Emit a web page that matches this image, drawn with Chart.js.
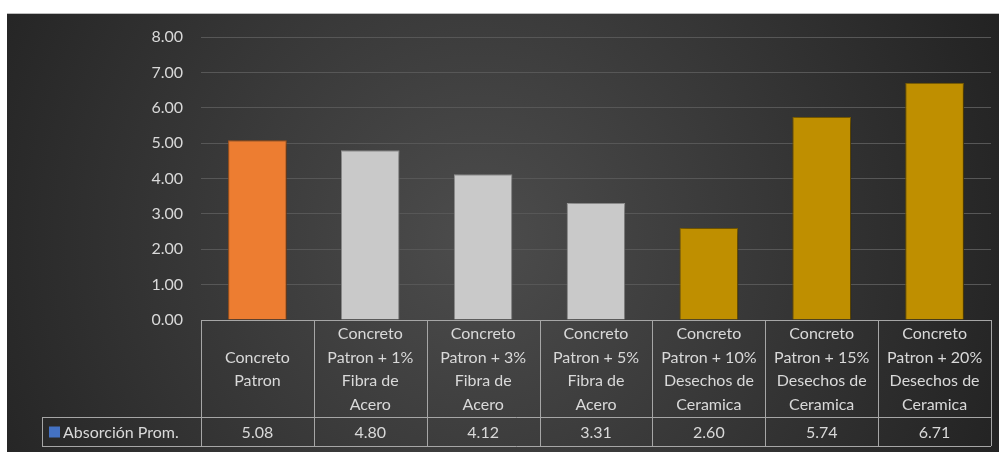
<!DOCTYPE html>
<html>
<head>
<meta charset="utf-8">
<script src="https://cdn.jsdelivr.net/npm/chart.js@4/dist/chart.umd.min.js"></script>
<style>
  html, body { margin: 0; padding: 0; background: #fff; }
  #wrap { width: 999px; height: 452px; }
</style>
</head>
<body>
<div id="wrap"><canvas id="barChart" width="999" height="452"></canvas></div>
<script>
// chart data
const categories = [
  ['Concreto', 'Patron'],
  ['Concreto', 'Patron + 1%', 'Fibra de', 'Acero'],
  ['Concreto', 'Patron + 3%', 'Fibra de', 'Acero'],
  ['Concreto', 'Patron + 5%', 'Fibra de', 'Acero'],
  ['Concreto', 'Patron + 10%', 'Desechos de', 'Ceramica'],
  ['Concreto', 'Patron + 15%', 'Desechos de', 'Ceramica'],
  ['Concreto', 'Patron + 20%', 'Desechos de', 'Ceramica']
];
const seriesName = 'Absorción Prom.';
const absorcion = [5.08, 4.80, 4.12, 3.31, 2.60, 5.74, 6.71];
const yTicks = [0, 1, 2, 3, 4, 5, 6, 7, 8];

const barColors = ['#ED7D31', '#C9C9C9', '#C9C9C9', '#C9C9C9', '#BF8F00', '#BF8F00', '#BF8F00'];
const barBorders = ['#B85F1F', '#9A9A9A', '#9A9A9A', '#9A9A9A', '#7F6000', '#7F6000', '#7F6000'];

const textColor = '#D9D9D9';
const fontFamily = 'Lato, "Open Sans", sans-serif';
const fontSize = 16;

// dark gradient background (Excel style)
const bgPlugin = {
  id: 'bgPlugin',
  beforeDraw(chart) {
    const ctx = chart.ctx;
    ctx.save();
    const x0 = 7, y0 = 13, w = chart.width - x0, h = chart.height - y0;
    const g = ctx.createRadialGradient(480, 240, 20, 480, 240, 560);
    g.addColorStop(0, '#4b4b4b');
    g.addColorStop(1, '#232323');
    ctx.fillStyle = g;
    ctx.fillRect(x0, y0, w, h);
    ctx.strokeStyle = '#bdbdbd';
    ctx.lineWidth = 1;
    ctx.beginPath();
    ctx.moveTo(x0, y0 + 0.5);
    ctx.lineTo(chart.width, y0 + 0.5);
    ctx.stroke();
    ctx.restore();
  }
};

// bar shadow
const shadowPlugin = {
  id: 'shadowPlugin',
  beforeDatasetsDraw(chart) {
    const ctx = chart.ctx;
    ctx.save();
    ctx.shadowColor = 'rgba(0,0,0,0.55)';
    ctx.shadowBlur = 7;
    ctx.shadowOffsetX = 2;
    ctx.shadowOffsetY = 2;
  },
  afterDatasetsDraw(chart) {
    chart.ctx.restore();
  }
};

// data table under the plot
const tablePlugin = {
  id: 'tablePlugin',
  afterDraw(chart) {
    const ctx = chart.ctx;
    const xs = chart.scales.x;
    const area = chart.chartArea;
    const n = categories.length;
    const colW = (area.right - area.left) / n;
    const top = area.bottom;
    const rowTop = top + 97;
    const rowBottom = rowTop + 29;
    const headLeft = 42;

    ctx.save();
    ctx.strokeStyle = '#A6A6A6';
    ctx.lineWidth = 1;
    ctx.beginPath();
    // top line (axis)
    ctx.moveTo(area.left, top + 0.5);
    ctx.lineTo(area.right, top + 0.5);
    // legend row lines
    ctx.moveTo(headLeft, rowTop + 0.5);
    ctx.lineTo(area.right, rowTop + 0.5);
    ctx.moveTo(headLeft, rowBottom + 0.5);
    ctx.lineTo(area.right, rowBottom + 0.5);
    ctx.moveTo(headLeft + 0.5, rowTop);
    ctx.lineTo(headLeft + 0.5, rowBottom);
    for (let i = 0; i <= n; i++) {
      const x = Math.round(area.left + i * colW) + 0.5;
      ctx.moveTo(x, top);
      ctx.lineTo(x, rowBottom);
    }
    ctx.stroke();

    ctx.fillStyle = textColor;
    ctx.font = fontSize + 'px ' + fontFamily;
    ctx.textAlign = 'center';
    ctx.textBaseline = 'middle';
    const lineH = 23.5;
    const midY = (top + rowTop) / 2 + 1;
    categories.forEach((lines, i) => {
      const cx = xs.getPixelForValue(i);
      const y0 = midY - (lines.length - 1) * lineH / 2;
      lines.forEach((t, j) => ctx.fillText(t, cx, y0 + j * lineH));
    });

    const ds = chart.data.datasets[0];
    const rowMid = (rowTop + rowBottom) / 2 + 1;
    ds.data.forEach((v, i) => {
      ctx.fillText(v.toFixed(2), xs.getPixelForValue(i), rowMid);
    });

    // legend key + series name
    ctx.fillStyle = '#4472C4';
    ctx.fillRect(headLeft + 7, rowMid - 6, 11, 11);
    ctx.fillStyle = textColor;
    ctx.textAlign = 'left';
    ctx.fillText(ds.label, headLeft + 21, rowMid);
    ctx.restore();
  }
};

new Chart(document.getElementById('barChart'), {
  type: 'bar',
  data: {
    labels: categories.map(c => c.join(' ')),
    datasets: [{
      label: seriesName,
      data: absorcion,
      backgroundColor: barColors,
      borderColor: barBorders,
      borderWidth: 1,
      borderSkipped: 'bottom',
      categoryPercentage: 1,
      barPercentage: 0.52
    }]
  },
  options: {
    responsive: false,
    animation: false,
    layout: {
      padding: { top: 37, right: 8, left: 0, bottom: 0 }
    },
    plugins: {
      legend: { display: false },
      tooltip: { enabled: false }
    },
    scales: {
      x: {
        grid: { display: false, drawTicks: false },
        border: { display: false },
        ticks: { display: false },
        afterFit(scale) { scale.height = 132; }
      },
      y: {
        min: yTicks[0],
        max: yTicks[yTicks.length - 1],
        afterBuildTicks(scale) { scale.ticks = yTicks.map(v => ({ value: v })); },
        afterFit(scale) { scale.width = 201; },
        grid: { color: '#575757', lineWidth: 1, drawTicks: false },
        border: { display: false },
        ticks: {
          color: textColor,
          padding: 18,
          font: { family: fontFamily, size: fontSize },
          callback: v => Number(v).toFixed(2)
        }
      }
    }
  },
  plugins: [bgPlugin, shadowPlugin, tablePlugin]
});
</script>
</body>
</html>
